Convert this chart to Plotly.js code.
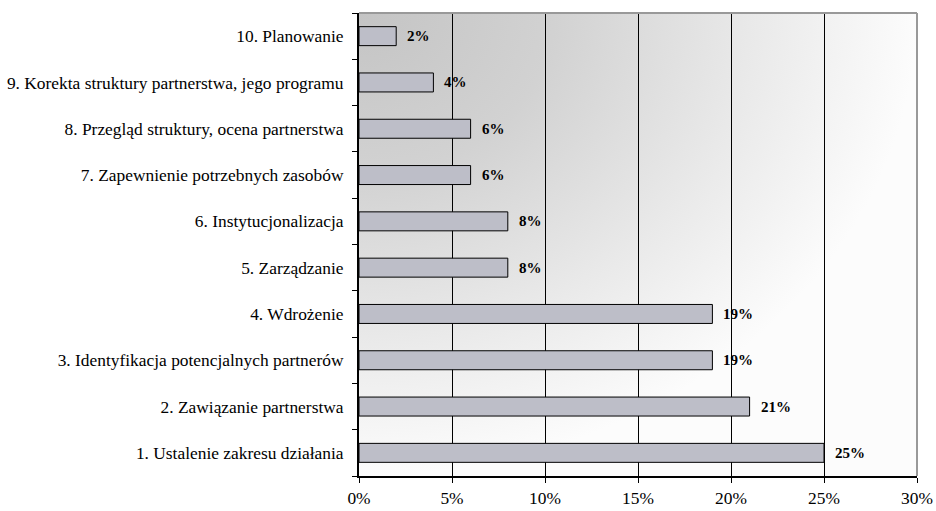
<!DOCTYPE html>
<html>
<head>
<meta charset="utf-8">
<script src="https://cdn.plot.ly/plotly-3.0.1.min.js"></script>
<style>html,body{margin:0;padding:0;background:#fff}#chart{width:936px;height:511px}</style>
</head>
<body>
<div id="chart"></div>
<script>
const categories = [
  "1. Ustalenie zakresu działania",
  "2. Zawiązanie partnerstwa",
  "3. Identyfikacja potencjalnych partnerów",
  "4. Wdrożenie",
  "5. Zarządzanie",
  "6. Instytucjonalizacja",
  "7. Zapewnienie potrzebnych zasobów",
  "8. Przegląd struktury, ocena partnerstwa",
  "9. Korekta struktury partnerstwa, jego programu",
  "10. Planowanie"
];
const values = [0.25, 0.21, 0.19, 0.19, 0.08, 0.08, 0.06, 0.06, 0.04, 0.02];
const valueLabels = ["25%", "21%", "19%", "19%", "8%", "8%", "6%", "6%", "4%", "2%"];
const xTickVals = [0, 0.05, 0.10, 0.15, 0.20, 0.25, 0.30];
const xTickText = ["0%", "5%", "10%", "15%", "20%", "25%", "30%"];

const bgSvg = '<svg xmlns="http://www.w3.org/2000/svg" width="560" height="463" preserveAspectRatio="none">' +
  '<defs><radialGradient id="g" cx="0" cy="0" r="1" gradientUnits="objectBoundingBox">' +
  '<stop offset="0" stop-color="#c4c4c4"/><stop offset="0.35" stop-color="#d2d2d2"/>' +
  '<stop offset="0.7" stop-color="#e9e9e9"/><stop offset="1" stop-color="#fcfcfc"/>' +
  '</radialGradient></defs><rect width="560" height="463" fill="url(#g)"/></svg>';
const bgUri = 'data:image/svg+xml;base64,' + btoa(bgSvg);

const font = {family: 'Liberation Serif, Times New Roman, serif', color: '#000'};

const trace = {
  type: 'bar',
  orientation: 'h',
  x: values,
  y: categories,
  marker: {color: '#bdbec8', line: {color: '#000', width: 1}},
  hoverinfo: 'skip'
};

const annotations = values.map((v, i) => ({
  x: v, y: categories[i], xref: 'x', yref: 'y',
  text: '<b>' + valueLabels[i] + '</b>', showarrow: false,
  xanchor: 'left', xshift: 9,
  font: Object.assign({}, font, {size: 15})
}));

const layout = {
  width: 936, height: 511,
  margin: {l: 359, r: 19, t: 13, b: 35, pad: 0},
  paper_bgcolor: '#fff',
  plot_bgcolor: 'rgba(0,0,0,0)',
  showlegend: false,
  bargap: 0.59,
  font: Object.assign({}, font, {size: 17.4}),
  xaxis: {
    range: [0, 0.30], tickvals: xTickVals, ticktext: xTickText,
    showgrid: true, gridcolor: '#000', gridwidth: 1,
    showline: true, linecolor: '#000', linewidth: 2,
    ticks: 'outside', ticklen: 5, tickcolor: '#000', tickwidth: 1,
    tickfont: Object.assign({}, font, {size: 17.4}),
    zeroline: false, fixedrange: true
  },
  yaxis: {
    type: 'category', categoryorder: 'array', categoryarray: categories,
    showgrid: false, showline: true, linecolor: '#000', linewidth: 2,
    ticks: 'outside', ticklen: 5, tickcolor: '#000', tickwidth: 1,
    tickson: 'boundaries', ticklabelstandoff: 10,
    tickfont: Object.assign({}, font, {size: 17.4}),
    zeroline: false, fixedrange: true
  },
  images: [{
    source: bgUri, xref: 'paper', yref: 'paper', x: 0, y: 1,
    sizex: 1, sizey: 1, sizing: 'stretch', layer: 'below',
    xanchor: 'left', yanchor: 'top'
  }],
  shapes: [
    {type: 'line', xref: 'paper', yref: 'paper', x0: 0, x1: 1, y0: 1, y1: 1,
     line: {color: '#999', width: 2}, layer: 'above'},
    {type: 'line', xref: 'paper', yref: 'paper', x0: 1, x1: 1, y0: 0, y1: 1,
     line: {color: '#999', width: 2}, layer: 'above'}
  ],
  annotations: annotations
};

Plotly.newPlot('chart', [trace], layout, {displayModeBar: false, staticPlot: true});
</script>
</body>
</html>
